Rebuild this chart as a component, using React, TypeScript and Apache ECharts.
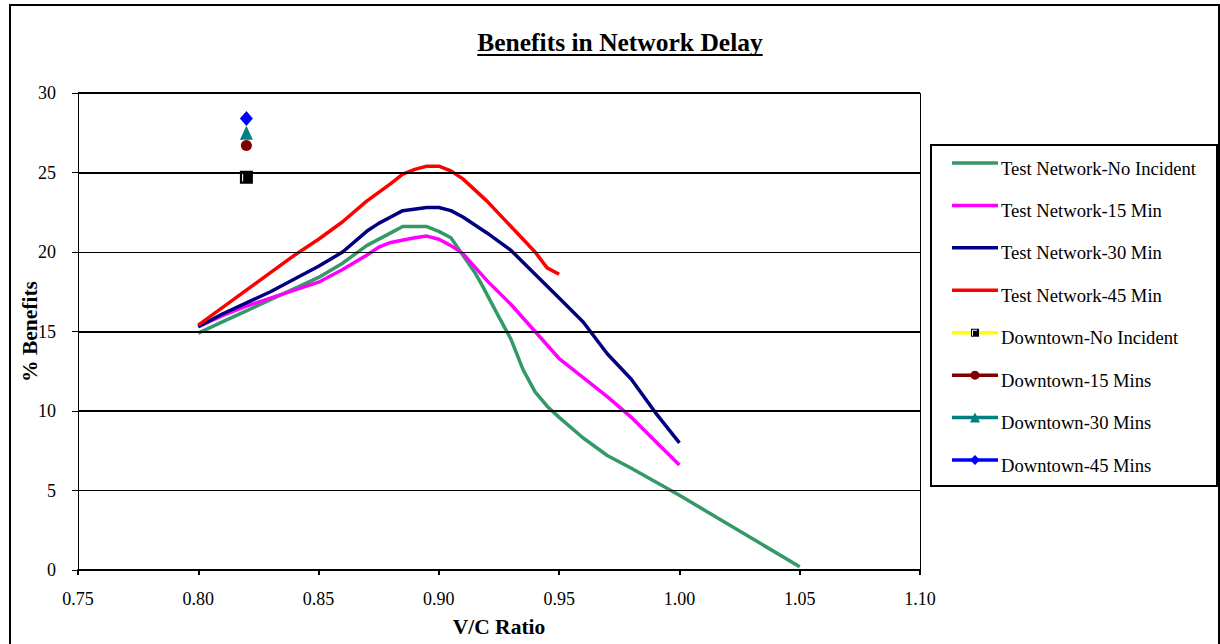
import React, { useEffect, useRef } from "react";
import * as echarts from "echarts";

const FONT = '"Liberation Serif", "Times New Roman", serif';

const TITLE = "Benefits in Network Delay";
const X_NAME = "V/C Ratio";
const Y_NAME = "% Benefits";

// Test Network - No Incident
const noIncX = [0.80, 0.81, 0.82, 0.83, 0.84, 0.85, 0.86, 0.87, 0.88, 0.885, 0.895, 0.90, 0.905, 0.91, 0.915, 0.918, 0.925, 0.93, 0.935, 0.94, 0.945, 0.95, 0.96, 0.97, 0.98, 1.00, 1.05];
const noIncY = [14.9, 15.6, 16.3, 17.0, 17.7, 18.4, 19.3, 20.4, 21.2, 21.6, 21.6, 21.3, 20.9, 19.8, 18.7, 17.9, 15.9, 14.5, 12.6, 11.2, 10.3, 9.6, 8.3, 7.2, 6.4, 4.7, 0.2];

// Test Network - 15 Min
const min15X = [0.80, 0.81, 0.82, 0.83, 0.84, 0.85, 0.86, 0.87, 0.875, 0.88, 0.89, 0.895, 0.90, 0.905, 0.91, 0.92, 0.93, 0.94, 0.95, 0.96, 0.97, 0.98, 0.99, 1.00];
const min15Y = [15.3, 16.0, 16.6, 17.1, 17.6, 18.1, 18.9, 19.8, 20.3, 20.6, 20.9, 21.0, 20.8, 20.4, 19.9, 18.2, 16.7, 15.0, 13.3, 12.1, 10.9, 9.6, 8.1, 6.6];

// Test Network - 30 Min
const min30X = [0.80, 0.81, 0.82, 0.83, 0.84, 0.85, 0.86, 0.87, 0.875, 0.88, 0.885, 0.895, 0.90, 0.905, 0.91, 0.92, 0.93, 0.94, 0.95, 0.96, 0.97, 0.98, 0.99, 1.00];
const min30Y = [15.3, 16.1, 16.8, 17.5, 18.3, 19.1, 20.0, 21.3, 21.8, 22.2, 22.6, 22.8, 22.8, 22.6, 22.2, 21.2, 20.1, 18.6, 17.1, 15.6, 13.6, 12.0, 9.9, 8.0];

// Test Network - 45 Min
const min45X = [0.80, 0.81, 0.82, 0.83, 0.84, 0.85, 0.86, 0.87, 0.88, 0.885, 0.89, 0.895, 0.90, 0.905, 0.91, 0.92, 0.93, 0.94, 0.945, 0.95];
const min45Y = [15.4, 16.5, 17.6, 18.7, 19.8, 20.8, 21.9, 23.2, 24.3, 24.9, 25.2, 25.4, 25.4, 25.1, 24.6, 23.2, 21.6, 20.0, 19.0, 18.6];

// Downtown single points
const downtownX = [0.82, 0.82, 0.82, 0.82];
const downtownY = [24.7, 26.7, 27.5, 28.4];

const seriesNames = [
  "Test Network-No Incident",
  "Test Network-15 Min",
  "Test Network-30 Min",
  "Test Network-45 Min",
  "Downtown-No Incident",
  "Downtown-15 Mins",
  "Downtown-30 Mins",
  "Downtown-45 Mins",
];
const lineColors = ["#339966", "#FF00FF", "#000080", "#FF0000", "#FFFF00", "#800000", "#008080", "#0000FF"];
const markerColors = ["", "", "", "", "#000000", "#800000", "#008080", "#0000FF"];
const markerShapes = ["none", "none", "none", "none", "rect", "circle", "triangle", "diamond"];

const xTicks = { min: 0.75, max: 1.1, interval: 0.05 };
const yTicks = { min: 0, max: 30, interval: 5 };
const thickGrid = [30, 25, 15, 10];
const thinGrid = [20, 5];

const GRID = { left: 78, top: 93, right: 300, bottom: 74 };

function zip(xs: number[], ys: number[]) {
  return xs.map((x, i) => [x, ys[i]]);
}

// square marker with a small white corner inside (as in the original)
const SQUARE_SYMBOL = "path://M0,0H12V12H0Z M2,10H3V3H7V2H2Z";

export default function App() {
  const ref = useRef<HTMLDivElement>(null);
  useEffect(() => {
    if (!ref.current) return;
    const chart = echarts.init(ref.current, null, { renderer: "svg" });

    const canvas = document.createElement("canvas");
    const ctx = canvas.getContext("2d")!;
    ctx.font = `bold 25.5px ${FONT}`;
    const titleW = ctx.measureText(TITLE).width;
    const titleCx = 620;

    const lineData = [zip(noIncX, noIncY), zip(min15X, min15Y), zip(min30X, min30Y), zip(min45X, min45Y)];

    const series: any[] = [];
    series.push({
      type: "line",
      data: [],
      silent: true,
      z: 1,
      markLine: {
        silent: true,
        symbol: ["none", "none"],
        label: { show: false },
        lineStyle: { type: "solid", color: "#000" },
        emphasis: { disabled: true },
        data: [
          ...thickGrid.map((v) => ({ yAxis: v, lineStyle: { width: 2, type: "solid", color: "#000" } })),
          ...thinGrid.map((v) => ({ yAxis: v, lineStyle: { width: 1, type: "solid", color: "#000" } })),
          { xAxis: xTicks.max, lineStyle: { width: 1, type: "solid", color: "#000" } },
        ],
      },
    });
    lineData.forEach((d, i) => {
      series.push({
        name: seriesNames[i],
        type: "line",
        data: d,
        z: 3,
        showSymbol: false,
        symbol: "none",
        lineStyle: { color: lineColors[i], width: 3.5 },
        itemStyle: { color: lineColors[i] },
      });
    });
    const symSizes: any[] = [13, 11, [13, 14], [13, 15]];
    downtownY.forEach((v, k) => {
      const i = k + 4;
      series.push({
        name: seriesNames[i],
        type: "line",
        data: [[downtownX[k], v]],
        z: 4,
        symbol: markerShapes[i] === "rect" ? SQUARE_SYMBOL : markerShapes[i],
        symbolSize: symSizes[k],
        showSymbol: true,
        lineStyle: { color: lineColors[i], width: 3 },
        itemStyle: { color: markerColors[i], borderWidth: 0 },
      });
    });

    // Legend drawn manually
    const legendTop = 163;
    const legendStep = 42.43;
    const legendEls: any[] = [];
    seriesNames.forEach((name, i) => {
      const y = legendTop + i * legendStep;
      legendEls.push({
        type: "line",
        shape: { x1: 952, y1: y, x2: 998, y2: y },
        style: { stroke: lineColors[i], lineWidth: 3.5 },
      });
      const cx = 975;
      const shape = markerShapes[i];
      const mc = markerColors[i];
      if (shape === "rect") {
        legendEls.push({ type: "rect", shape: { x: cx - 4, y: y - 4, width: 8, height: 8 }, style: { fill: "#000" } });
        legendEls.push({ type: "polyline", shape: { points: [[cx - 2.5, y + 3], [cx - 2.5, y - 2.5], [cx + 2, y - 2.5]] }, style: { stroke: "#fff", lineWidth: 1, fill: null } });
      } else if (shape === "circle") {
        legendEls.push({ type: "circle", shape: { cx, cy: y, r: 4.5 }, style: { fill: mc } });
      } else if (shape === "triangle") {
        legendEls.push({ type: "polygon", shape: { points: [[cx, y - 5], [cx + 5, y + 5], [cx - 5, y + 5]] }, style: { fill: mc } });
      } else if (shape === "diamond") {
        legendEls.push({ type: "polygon", shape: { points: [[cx, y - 5], [cx + 5, y], [cx, y + 5], [cx - 5, y]] }, style: { fill: mc } });
      }
      legendEls.push({
        type: "text",
        x: 1001,
        y: y + 5,
        style: { text: name, fill: "#000", font: `18.6px ${FONT}`, textAlign: "left", textVerticalAlign: "middle" },
      });
    });

    chart.setOption({
      animation: false,
      backgroundColor: "#fff",
      textStyle: { fontFamily: FONT, color: "#000" },
      grid: { ...GRID, containLabel: false },
      xAxis: {
        type: "value",
        min: xTicks.min,
        max: xTicks.max,
        interval: xTicks.interval,
        name: X_NAME,
        nameLocation: "middle",
        nameGap: 46,
        nameMoveOverlap: false,
        nameTextStyle: { fontFamily: FONT, fontSize: 21.5, fontWeight: "bold", color: "#000" },
        axisLine: { show: true, onZero: false, lineStyle: { color: "#000", width: 2 } },
        axisTick: { show: true, length: 5, lineStyle: { color: "#000", width: 2 } },
        axisLabel: { fontFamily: FONT, fontSize: 18, color: "#000", margin: 20, formatter: (v: number) => v.toFixed(2) },
        splitLine: { show: false },
      },
      yAxis: {
        type: "value",
        min: yTicks.min,
        max: yTicks.max,
        interval: yTicks.interval,
        name: Y_NAME,
        nameLocation: "middle",
        nameGap: 37,
        nameMoveOverlap: false,
        nameTextStyle: { fontFamily: FONT, fontSize: 21.5, fontWeight: "bold", color: "#000" },
        axisLine: { show: true, lineStyle: { color: "#000", width: 1 } },
        axisTick: { show: true, length: 6, lineStyle: { color: "#000", width: 1 } },
        axisLabel: { fontFamily: FONT, fontSize: 18, color: "#000", margin: 22 },
        splitLine: { show: false },
      },
      series,
      graphic: [
        {
          type: "rect",
          shape: { x: 10, y: 5, width: 1209, height: 660 },
          style: { fill: null, stroke: "#000", lineWidth: 2 },
          z: 0,
          silent: true,
        },
        {
          type: "text",
          x: titleCx,
          y: 42,
          style: { text: TITLE, fill: "#000", font: `bold 25.5px ${FONT}`, textAlign: "center", textVerticalAlign: "middle" },
        },
        {
          type: "line",
          shape: { x1: titleCx - titleW / 2, y1: 55, x2: titleCx + titleW / 2, y2: 55 },
          style: { stroke: "#000", lineWidth: 2 },
        },
        {
          type: "rect",
          shape: { x: 931, y: 145, width: 286, height: 341 },
          style: { fill: "#fff", stroke: "#000", lineWidth: 2 },
        },
        ...legendEls,
      ],
    });
    return () => chart.dispose();
  }, []);
  return <div ref={ref} style={{ position: "fixed", left: 0, top: 0, width: 1220, height: 644 }} />;
}
